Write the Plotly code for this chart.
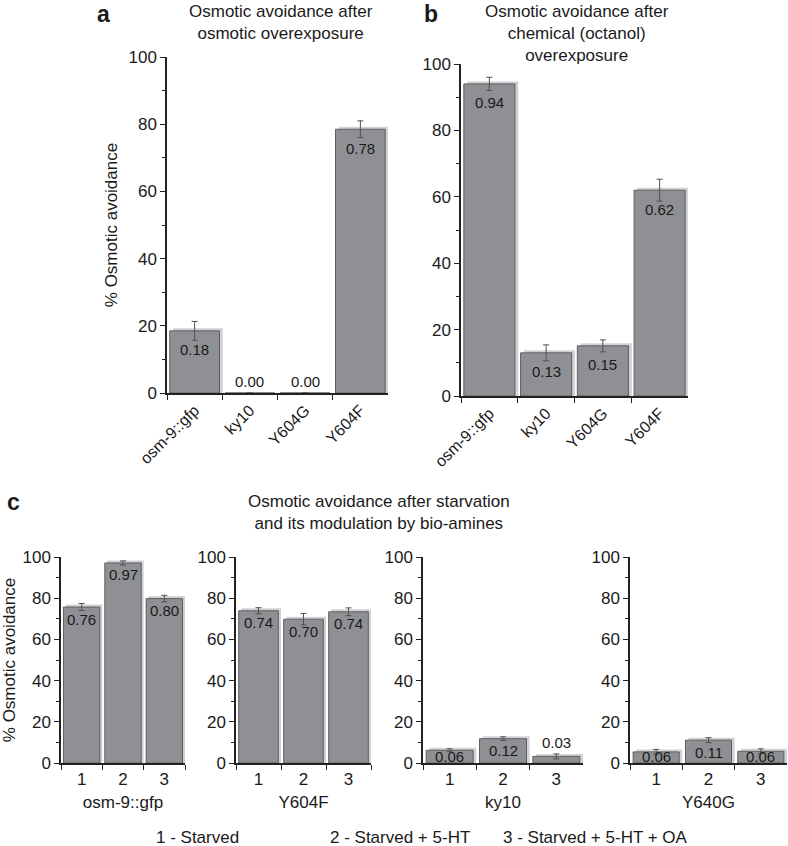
import plotly.graph_objects as go

# ---------------- data ----------------
cats_ab = ["osm-9::gfp", "ky10", "Y604G", "Y604F"]

a_vals = [18.5, 0.0, 0.0, 78.5]
a_err = [2.8, 0.0, 0.0, 2.5]
a_labels = ["0.18", "0.00", "0.00", "0.78"]

b_vals = [94.0, 13.0, 15.1, 62.0]
b_err = [2.0, 2.4, 1.8, 3.3]
b_labels = ["0.94", "0.13", "0.15", "0.62"]

cats_c = ["1", "2", "3"]
c_groups = ["osm-9::gfp", "Y604F", "ky10", "Y640G"]
c_vals = [
    [75.7, 97.1, 79.8],
    [73.9, 69.8, 73.4],
    [6.2, 11.8, 3.2],
    [5.4, 11.1, 5.7],
]
c_err = [
    [1.7, 1.0, 1.6],
    [1.5, 2.8, 1.9],
    [0.7, 0.9, 1.2],
    [1.2, 1.2, 1.2],
]
c_labels = [
    ["0.76", "0.97", "0.80"],
    ["0.74", "0.70", "0.74"],
    ["0.06", "0.12", "0.03"],
    ["0.06", "0.11", "0.06"],
]
y_ticks = [0, 20, 40, 60, 80, 100]

# ---------------- style ----------------
W, H = 788, 846
FONT = "Liberation Sans, Arial, Helvetica, sans-serif"
TXT = "#1a1a1a"
BAR = "#8f9094"
BAR_LINE = "#5e5e60"
SHADOW = "#d2d2d4"
AXIS = "#222222"


def px_x(p):
    return p / W


def px_y(p):
    return 1 - p / H


fig = go.Figure()

panels = [
    # (cats, vals, err, labels, xdom px, ydom px(top,bottom), barwidth, label offset px)
    (cats_ab, a_vals, a_err, a_labels, (167, 388), (57, 393), 0.9, 19),
    (cats_ab, b_vals, b_err, b_labels, (461, 688), (64, 396), 0.9, 19),
]
cx = [(61, 185), (236, 371), (423, 583), (630, 787)]
for i in range(4):
    panels.append((cats_c, c_vals[i], c_err[i], c_labels[i], cx[i], (557, 763), 0.88, 12))

annotations = []
for k, (cats, vals, err, labels, xd, yd, bw, loff) in enumerate(panels):
    n = k + 1
    xa = "x" if n == 1 else f"x{n}"
    ya = "y" if n == 1 else f"y{n}"
    scale = (yd[1] - yd[0]) / 100.0  # px per unit
    # shadow
    fig.add_trace(go.Bar(
        x=cats, y=[v + 2.5 / scale if v > 0 else 0 for v in vals],
        width=bw, offset=-bw / 2 + 0.06,
        marker=dict(color=SHADOW, line=dict(width=0)),
        xaxis=xa, yaxis=ya, hoverinfo="skip", showlegend=False,
    ))
    fig.add_trace(go.Bar(
        x=cats, y=vals, width=bw, offset=-bw / 2,
        marker=dict(color=BAR, line=dict(color=BAR_LINE, width=1)),
        error_y=dict(type="data", array=[e if e > 0 else None for e in err],
                     color="#505050", thickness=1, width=3,
                     visible=True),
        xaxis=xa, yaxis=ya, showlegend=False,
    ))
    for idx, (v, e, lab) in enumerate(zip(vals, err, labels)):
        if v < 5:
            annotations.append(dict(x=idx, y=v + e, xref=xa, yref=ya, text=lab,
                                    showarrow=False, yanchor="bottom", yshift=1,
                                    font=dict(size=15, color=TXT, family=FONT)))
        else:
            shift = -min(loff, v * scale - 7)
            annotations.append(dict(x=idx, y=v, xref=xa, yref=ya, text=lab,
                                    showarrow=False, yanchor="middle", yshift=shift,
                                    font=dict(size=15, color=TXT, family=FONT)))

    xkey = "xaxis" if n == 1 else f"xaxis{n}"
    ykey = "yaxis" if n == 1 else f"yaxis{n}"
    xaxis = dict(
        domain=[px_x(xd[0]), px_x(xd[1])], anchor=ya, type="category",
        range=[-0.5, len(cats) - 0.5], automargin=False,
        showline=True, linecolor=AXIS, linewidth=1.5,
        ticks="outside", tickson="boundaries", ticklen=5, tickcolor=AXIS,
        tickfont=dict(size=17 if n > 2 else 16, color=TXT, family=FONT),
        showgrid=False, zeroline=False, fixedrange=True,
    )
    if n <= 2:
        xaxis["tickangle"] = -45
    else:
        xaxis["title"] = dict(text=c_groups[n - 3], standoff=8,
                              font=dict(size=17, color=TXT, family=FONT))
    yaxis = dict(
        domain=[px_y(yd[1]), px_y(yd[0])], anchor=xa, range=[0, 100],
        tickvals=y_ticks, showline=True, linecolor=AXIS, linewidth=1.5,
        automargin=False,
        ticks="outside", ticklen=5, tickcolor=AXIS,
        minor=dict(dtick=10, ticks="outside", ticklen=3, tickcolor=AXIS),
        tickfont=dict(size=17, color=TXT, family=FONT),
        showgrid=False, zeroline=False, fixedrange=True,
    )
    if n in (1, 3):
        yaxis["title"] = dict(text="% Osmotic avoidance", standoff=7,
                              font=dict(size=17, color=TXT, family=FONT))
    fig.layout[xkey] = xaxis
    fig.layout[ykey] = yaxis

# titles / letters / legend text
def txt(x, y, s, size=16, bold=False, xanchor="center"):
    annotations.append(dict(
        x=px_x(x), y=px_y(y), xref="paper", yref="paper", text=f"<b>{s}</b>" if bold else s,
        showarrow=False, xanchor=xanchor, yanchor="middle",
        font=dict(size=size, color=TXT, family=FONT)))

txt(103, 14, "a", size=23, bold=True)
txt(431, 14, "b", size=23, bold=True)
txt(13, 502, "c", size=23, bold=True)
txt(281, 22, "Osmotic avoidance after<br>osmotic overexposure", size=17)
txt(577, 33, "Osmotic avoidance after<br>chemical (octanol)<br>overexposure", size=17)
txt(379, 512, "Osmotic avoidance after starvation<br>and its modulation by bio-amines", size=17)
txt(198, 837, "1 - Starved", size=17)
txt(400, 837, "2 - Starved + 5-HT", size=17)
txt(595, 837, "3 - Starved + 5-HT + OA", size=17)

fig.update_layout(
    width=W, height=H, margin=dict(l=0, r=0, t=0, b=0, autoexpand=False),
    paper_bgcolor="white", plot_bgcolor="white",
    barmode="overlay", showlegend=False,
    annotations=annotations,
    font=dict(family=FONT, color=TXT),
)

fig.write_html(
    "out.html",
    config={"displayModeBar": False},
    post_script="document.body.style.margin='0';document.body.style.overflow='hidden';",
)
